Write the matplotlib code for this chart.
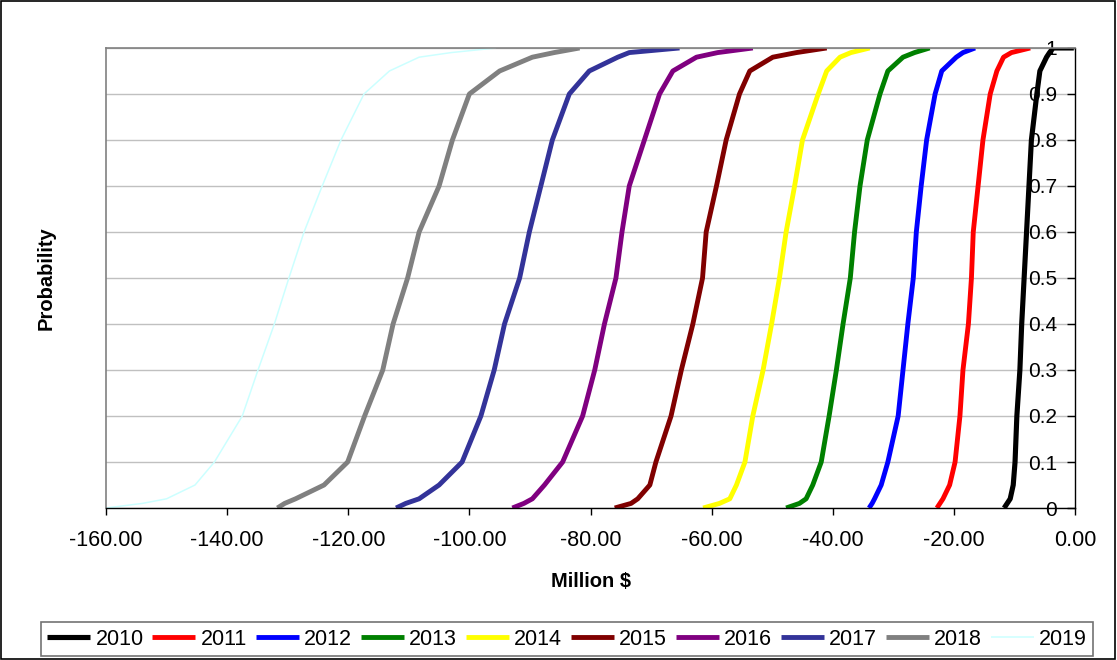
import matplotlib
matplotlib.use("Agg")
import matplotlib.pyplot as plt
from matplotlib.patches import Rectangle

plt.rcParams['font.family'] = ['Liberation Sans', 'DejaVu Sans']
plt.rcParams['axes.unicode_minus'] = False

# cumulative probability levels shared by all curves
probs = [0, 0.01, 0.02, 0.05, 0.1, 0.2, 0.3, 0.4, 0.5, 0.6, 0.7, 0.8, 0.9, 0.95, 0.98, 0.99, 1.0]

# values (million $) at each probability level
years = ['2010', '2011', '2012', '2013', '2014', '2015', '2016', '2017', '2018', '2019']
v2010 = [-11.7, -11.2, -10.7, -10.2, -9.9, -9.6, -9.1, -8.8, -8.4, -8.0, -7.6, -7.2, -6.3, -5.8, -4.7, -4.2, -3.6]
v2011 = [-22.8, -22.3, -21.8, -20.7, -19.8, -19.0, -18.5, -17.6, -17.1, -16.8, -16.0, -15.2, -14.0, -12.9, -11.8, -10.5, -7.4]
v2012 = [-34.0, -33.5, -33.1, -32.0, -30.9, -29.2, -28.4, -27.6, -26.7, -26.2, -25.4, -24.5, -23.1, -22.0, -19.6, -18.5, -16.5]
v2013 = [-47.7, -45.5, -44.4, -43.3, -41.9, -40.6, -39.4, -38.3, -37.1, -36.4, -35.5, -34.3, -32.2, -30.9, -28.4, -26.5, -24.0]
v2014 = [-61.4, -58.7, -57.0, -55.9, -54.5, -53.2, -51.5, -50.1, -48.8, -47.7, -46.3, -45.0, -42.4, -41.0, -38.8, -37.0, -33.9]
v2015 = [-76.0, -73.3, -72.2, -70.2, -69.2, -66.7, -65.0, -63.1, -61.5, -60.9, -59.2, -57.6, -55.4, -53.7, -49.9, -46.0, -41.0]
v2016 = [-92.9, -91.0, -89.6, -87.6, -84.6, -81.3, -79.3, -77.7, -75.8, -74.8, -73.6, -71.1, -68.6, -66.4, -62.5, -59.0, -53.2]
v2017 = [-112.1, -110.5, -108.3, -105.0, -101.2, -98.1, -95.9, -94.2, -91.7, -90.1, -88.2, -86.3, -83.5, -80.2, -75.5, -73.6, -65.3]
v2018 = [-131.7, -130.5, -128.7, -124.0, -120.1, -117.3, -114.3, -112.6, -110.2, -108.3, -105.0, -102.8, -100.0, -95.0, -89.6, -86.0, -81.8]
v2019 = [-160.0, -154.0, -150.0, -145.3, -142.1, -137.5, -134.9, -132.2, -129.8, -127.3, -124.3, -121.2, -117.4, -113.2, -108.3, -103.0, -95.6]
values = [v2010, v2011, v2012, v2013, v2014, v2015, v2016, v2017, v2018, v2019]

colors = ['#000000', '#FF0000', '#0000FF', '#008000', '#FFFF00',
          '#800000', '#800080', '#333399', '#808080', '#CCFFFF']
widths = [3.7, 3.5, 3.5, 3.5, 3.5, 3.5, 3.5, 3.5, 3.5, 1.1]

fig = plt.figure(figsize=(11.17, 6.60), dpi=100)
ax = fig.add_axes([0.0949, 0.2303, 0.8675, 0.6970])

for yr, v, c, w in zip(years, values, colors, widths):
    # the 2010 curve runs flat along p=1 to the y axis
    xs = v + [-0.2] if yr == '2010' else v
    ys = probs + [1.0] if yr == '2010' else probs
    ax.plot(xs, ys, color=c, lw=w, label=yr, solid_capstyle='butt')

ax.set_xlim(-160, 0)
ax.set_ylim(0, 1)
ax.set_xticks(range(-160, 1, 20))
ax.set_xticklabels([f'{t:.2f}' for t in range(-160, 1, 20)])
yt = [i / 10 for i in range(11)]
ax.set_yticks(yt)
ax.set_yticklabels(['0', '0.1', '0.2', '0.3', '0.4', '0.5', '0.6', '0.7', '0.8', '0.9', '1'])

ax.yaxis.set_ticks_position('right')
ax.yaxis.set_label_position('left')
ax.tick_params(axis='y', direction='in', length=6, width=1, pad=-13, labelsize=15)
for lab in ax.get_yticklabels():
    lab.set_horizontalalignment('right')
ax.tick_params(axis='x', direction='out', length=5, width=1, pad=11, labelsize=15.5, colors='black')

ax.grid(axis='y', color='#c0c0c0', lw=1)
ax.set_axisbelow(True)
for side in ['left', 'top']:
    ax.spines[side].set_color('#808080')
    ax.spines[side].set_linewidth(1.2)
for side in ['bottom', 'right']:
    ax.spines[side].set_color('black')
    ax.spines[side].set_linewidth(1)

ax.set_xlabel('Million $', fontsize=14.5, fontweight='bold', labelpad=15)
ax.set_ylabel('Probability', fontsize=14.5, fontweight='bold', labelpad=36)

leg = fig.legend(loc='center', bbox_to_anchor=(0.5076, 0.0318), ncol=10, fontsize=15.5,
                 frameon=True, fancybox=False, handlelength=2.0, handletextpad=0.25,
                 columnspacing=0.4, borderpad=0.3)
leg.get_frame().set_edgecolor('#505050')
leg.get_frame().set_linewidth(1.2)

fig.patches.append(Rectangle((0.0005, 0.001), 0.998, 0.998, transform=fig.transFigure,
                             fill=False, edgecolor='black', lw=1.2))

fig.savefig('out.png', dpi=100)
